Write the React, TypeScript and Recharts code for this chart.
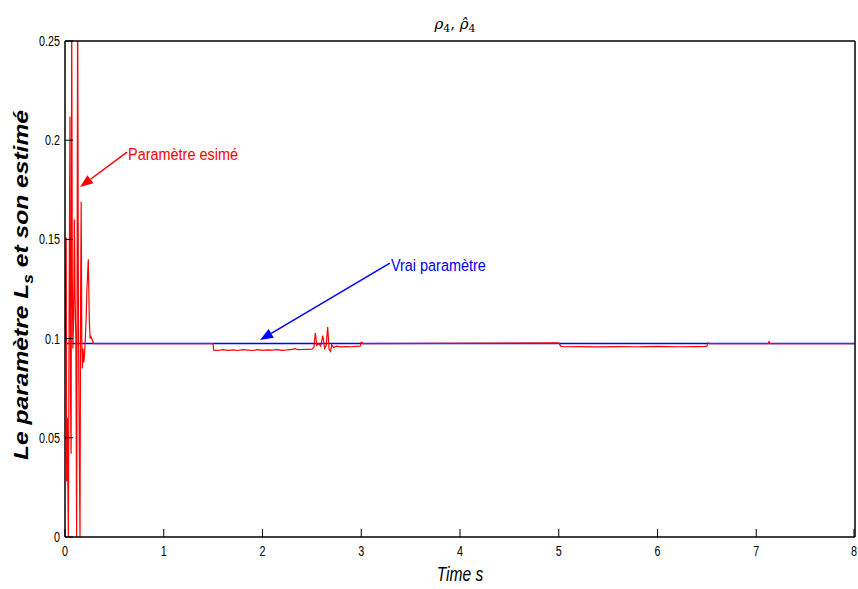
import { LineChart, Line, XAxis, YAxis, ReferenceLine } from 'recharts'

// estimated parameter (red), time in s
const estTime = [
  0, 0.005, 0.012, 0.017, 0.024, 0.03, 0.034, 0.042, 0.05, 0.056, 0.062, 0.068, 0.074, 0.08,
  0.088, 0.095, 0.102, 0.11, 0.118, 0.128, 0.136, 0.144, 0.152, 0.158, 0.164, 0.17, 0.176,
  0.182, 0.19, 0.198, 0.206, 0.214, 0.222, 0.236, 0.246, 0.254, 0.262, 0.27, 0.28, 0.29, 0.3,
  1.5, 1.505, 1.55, 1.6, 1.65, 1.7, 1.75, 1.8, 1.85, 1.9, 1.95, 2.0, 2.05, 2.1, 2.15, 2.2,
  2.25, 2.3, 2.33, 2.36, 2.4, 2.45, 2.5, 2.52, 2.535, 2.55, 2.57, 2.59, 2.61, 2.63, 2.645,
  2.66, 2.675, 2.69, 2.7, 2.72, 2.75, 2.8, 2.85, 2.9, 2.95, 2.99, 3.0, 3.02,
  5.0, 5.02, 5.05, 5.2, 5.4, 5.6, 5.8, 6.0, 6.2, 6.4, 6.48, 6.5, 6.51, 6.53,
  7.12, 7.13, 7.14, 8,
]
const estValue = [
  0.098, 0.12, 0.151, 0.028, 0.06, 0.02, 0.0, 0.115, 0.212, 0.07, 0.042, 0.27, 0.13, 0.095,
  0.11, 0.16, 0.12, 0.1, 0.0, 0.27, 0.11, 0.05, 0.0, 0.12, 0.169, 0.1, 0.085, 0.095, 0.088,
  0.092, 0.1, 0.11, 0.125, 0.14, 0.11, 0.1, 0.101, 0.1, 0.099, 0.0975, 0.0975,
  0.0975, 0.0942, 0.094, 0.0944, 0.0941, 0.0943, 0.094, 0.0944, 0.0942, 0.094, 0.0944, 0.0941,
  0.0943, 0.0942, 0.0944, 0.0941, 0.0943, 0.0946, 0.0949, 0.0944, 0.0945, 0.0946, 0.0947,
  0.0955, 0.1028, 0.0965, 0.0975, 0.0962, 0.1015, 0.095, 0.0965, 0.1058, 0.0945, 0.0935,
  0.097, 0.0955, 0.0962, 0.0958, 0.096, 0.0959, 0.0961, 0.0962, 0.0982, 0.0975,
  0.0978, 0.0962, 0.0959, 0.096, 0.0958, 0.096, 0.0959, 0.0961, 0.0959, 0.096, 0.0961, 0.0962,
  0.0978, 0.0975, 0.0975, 0.0985, 0.0975, 0.0975,
]

// true parameter (blue)
const trueTime = [0, 8]
const trueValue = [0.0975, 0.0975]

const xTicks = [0, 1, 2, 3, 4, 5, 6, 7, 8]
const yTicks = [0, 0.05, 0.1, 0.15, 0.2, 0.25]

const estData = estTime.map((t, i) => ({ t, v: estValue[i] }))
const trueData = trueTime.map((t, i) => ({ t, v: trueValue[i] }))

const sans = '"Liberation Sans", Arial, sans-serif'
const TICK = 8

// narrow helvetica look: squeeze text horizontally
function NText({ x, y, sx = 0.72, size = 15, anchor = 'start', color = '#000', italic = false, children }: any) {
  return (
    <text
      transform={`translate(${x} ${y}) scale(${sx} 1)`}
      textAnchor={anchor}
      fontFamily={sans}
      fontSize={size}
      fontStyle={italic ? 'italic' : 'normal'}
      fill={color}
    >
      {children}
    </text>
  )
}

function BottomTick({ x, y, payload }: any) {
  const axisY = y - 8
  return (
    <g>
      <line x1={x} x2={x} y1={axisY} y2={axisY - TICK} stroke="#000" />
      <NText x={x} y={y + 11} anchor="middle">{payload.value}</NText>
    </g>
  )
}

function LeftTick({ x, y, payload }: any) {
  const axisX = x + 5
  return (
    <g>
      <line x1={axisX} x2={axisX + TICK} y1={y} y2={y} stroke="#000" />
      <NText x={x} y={y + 5} anchor="end">{payload.value}</NText>
    </g>
  )
}

function TopTick({ x, y }: any) {
  return <line x1={x} x2={x} y1={y} y2={y + TICK} stroke="#000" />
}

function RightTick({ x, y }: any) {
  return <line x1={x} x2={x - TICK} y1={y} y2={y} stroke="#000" />
}

function arrow(color: string, label: string) {
  return (p: any) => {
    const { x1, y1, x2, y2 } = p
    const ang = Math.atan2(y2 - y1, x2 - x1)
    const L = 13
    const W = 5
    const bx = x2 - L * Math.cos(ang)
    const by = y2 - L * Math.sin(ang)
    const px = -Math.sin(ang) * W
    const py = Math.cos(ang) * W
    return (
      <g>
        <line x1={x1} y1={y1} x2={bx} y2={by} stroke={color} strokeWidth={1.5} />
        <polygon points={`${x2},${y2} ${bx + px},${by + py} ${bx - px},${by - py}`} fill={color} />
        <NText x={x1 + 1} y={y1 + 8} size={17} sx={0.85} color={color}>{label}</NText>
      </g>
    )
  }
}

export default function App() {
  return (
    <div style={{ position: 'absolute', left: 0, top: 0, background: '#fff' }}>
      <LineChart width={858} height={589} margin={{ top: 40, right: 2, bottom: 0, left: 0 }}>
        <XAxis
          dataKey="t"
          type="number"
          domain={[0, 8]}
          ticks={xTicks}
          allowDataOverflow
          height={52}
          tickSize={0}
          tickMargin={8}
          tick={<BottomTick />}
          axisLine={{ stroke: '#000', strokeWidth: 1.5 }}
          label={{
            content: ({ viewBox }: any) => (
              <NText x={viewBox.x + viewBox.width / 2} y={viewBox.y + 44} anchor="middle" size={20} sx={0.78} italic>
                Time s
              </NText>
            ),
          }}
        />
        <XAxis
          xAxisId="top"
          orientation="top"
          type="number"
          domain={[0, 8]}
          ticks={xTicks}
          height={1}
          tickSize={0}
          tickMargin={0}
          tick={<TopTick />}
          axisLine={{ stroke: '#000', strokeWidth: 1.5 }}
          label={{
            content: ({ viewBox }: any) => (
              <text
                x={viewBox.x + viewBox.width / 2 - 5}
                y={viewBox.y - 11}
                textAnchor="middle"
                fontFamily='"DejaVu Serif", "Liberation Serif", serif'
                fontSize={15}
                fill="#000"
              >
                <tspan fontStyle="italic">ρ</tspan>
                <tspan fontSize={11} dy={3}>4</tspan>
                <tspan dy={-3}>, </tspan>
                <tspan fontStyle="italic">ρ̂</tspan>
                <tspan fontSize={11} dy={3}>4</tspan>
              </text>
            ),
          }}
        />
        <YAxis
          type="number"
          domain={[0, 0.25]}
          ticks={yTicks}
          allowDataOverflow
          width={65}
          tickSize={0}
          tickMargin={5}
          tick={<LeftTick />}
          axisLine={{ stroke: '#000', strokeWidth: 1.5 }}
          label={{
            content: ({ viewBox }: any) => {
              const cx = 28
              const cy = viewBox.y + viewBox.height / 2 - 4
              return (
                <text
                  transform={`rotate(-90 ${cx} ${cy})`}
                  x={cx}
                  y={cy}
                  textAnchor="middle"
                  fontFamily={sans}
                  fontStyle="italic"
                  fontWeight="bold"
                  fontSize={20}
                  fill="#000"
                  textLength={350}
                  lengthAdjust="spacingAndGlyphs"
                >
                  Le paramètre L
                  <tspan fontSize={14} dy={5}>s</tspan>
                  <tspan dy={-5}>{'  et son estimé'}</tspan>
                </text>
              )
            },
          }}
        />
        <YAxis
          yAxisId="right"
          orientation="right"
          type="number"
          domain={[0, 0.25]}
          ticks={yTicks}
          width={1}
          tickSize={0}
          tickMargin={0}
          tick={<RightTick />}
          axisLine={{ stroke: '#000', strokeWidth: 1.5 }}
        />
        <Line
          data={trueData}
          dataKey="v"
          type="linear"
          stroke="#0000ff"
          strokeWidth={1.6}
          dot={false}
          isAnimationActive={false}
        />
        <Line
          data={estData}
          dataKey="v"
          type="linear"
          stroke="#ff0000"
          strokeWidth={1.2}
          dot={false}
          isAnimationActive={false}
        />
        <ReferenceLine
          segment={[{ x: 0.628, y: 0.194 }, { x: 0.152, y: 0.1764 }]}
          shape={arrow('#ff0000', 'Paramètre esimé')}
        />
        <ReferenceLine
          segment={[{ x: 3.29, y: 0.138 }, { x: 1.975, y: 0.0993 }]}
          shape={arrow('#0000ff', 'Vrai paramètre')}
        />
      </LineChart>
    </div>
  )
}
